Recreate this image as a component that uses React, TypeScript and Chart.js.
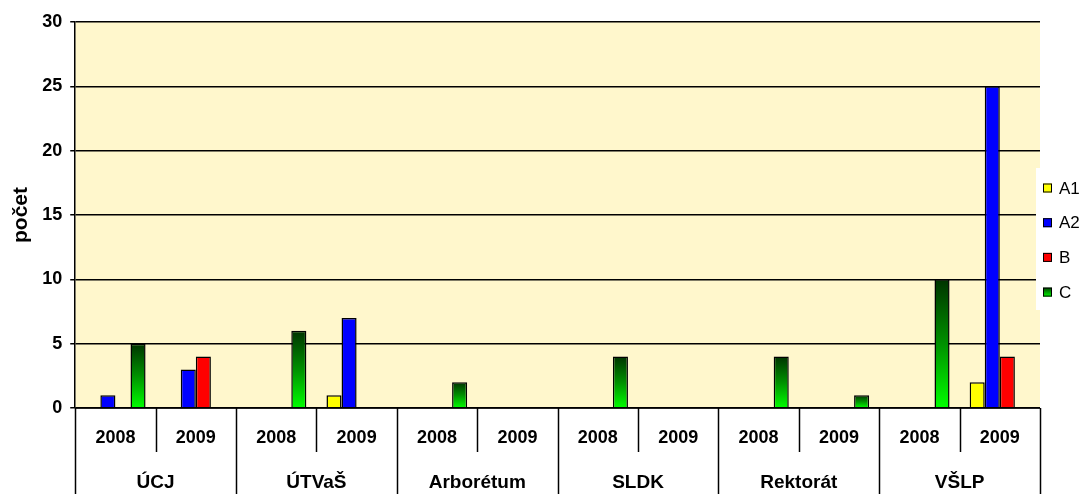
import { useEffect, useRef } from "react";
import { Chart, registerables } from "chart.js";

Chart.register(...registerables);

const FONT = 'Arial, "Liberation Sans", sans-serif';

const years = ["2008", "2009", "2008", "2009", "2008", "2009", "2008", "2009", "2008", "2009", "2008", "2009"];
const groups = ["ÚCJ", "ÚTVaŠ", "Arborétum", "SLDK", "Rektorát", "VŠLP"];
const seriesNames = ["A1", "A2", "B", "C"];
const a1Values = [0, 0, 0, 1, 0, 0, 0, 0, 0, 0, 0, 2];
const a2Values = [1, 3, 0, 7, 0, 0, 0, 0, 0, 0, 0, 25];
const bValues = [0, 4, 0, 0, 0, 0, 0, 0, 0, 0, 0, 4];
const cValues = [5, 0, 6, 0, 2, 0, 4, 0, 4, 1, 10, 0];
const yAxisTitle = "počet";

const noZero = (arr: number[]) => arr.map((v) => (v === 0 ? null : v));

const greenGradient = (ctx: any) => {
  const chart = ctx.chart;
  const area = chart.chartArea;
  if (!area || ctx.type !== "data") return "#00ff00";
  const v = ctx.raw;
  if (v == null) return "#00ff00";
  const y = chart.scales.y;
  const top = y.getPixelForValue(v);
  const bottom = y.getPixelForValue(0);
  const g = chart.ctx.createLinearGradient(0, top, 0, bottom);
  g.addColorStop(0, "#003300");
  g.addColorStop(0.5, "#009000");
  g.addColorStop(1, "#00ff00");
  return g;
};

const legendColors = ["#ffff00", "#0000ff", "#ff0000", null];

const decorPlugin = {
  id: "decor",
  beforeDraw(chart: any) {
    const { ctx, chartArea } = chart;
    ctx.save();
    ctx.fillStyle = "#fff7cc";
    ctx.fillRect(chartArea.left, chartArea.top, chartArea.right - chartArea.left, chartArea.bottom - chartArea.top);
    ctx.restore();
  },
  afterDraw(chart: any) {
    const { ctx, chartArea } = chart;
    const xs = chart.scales.x;
    const H = chart.height;
    const n = years.length;
    const px = (i: number) => xs.getPixelForValue(i);
    const boundary = (i: number) => {
      if (i <= 0) return chartArea.left;
      if (i >= n) return chartArea.right;
      return (px(i - 1) + px(i)) / 2;
    };
    ctx.save();
    ctx.strokeStyle = "#000";
    ctx.lineWidth = 1.5;
    ctx.beginPath();
    ctx.moveTo(chartArea.left, chartArea.bottom);
    ctx.lineTo(chartArea.right, chartArea.bottom);
    ctx.stroke();
    for (let i = 0; i <= n; i++) {
      const x = Math.round(boundary(i)) + 0.5;
      const full = i % 2 === 0;
      ctx.beginPath();
      ctx.moveTo(x, chartArea.bottom);
      ctx.lineTo(x, full ? H : chartArea.bottom + 44);
      ctx.stroke();
    }
    ctx.fillStyle = "#000";
    ctx.textAlign = "center";
    ctx.textBaseline = "middle";
    ctx.font = `bold 18px ${FONT}`;
    for (let i = 0; i < n; i++) {
      ctx.fillText(years[i], px(i), chartArea.bottom + 30);
    }
    ctx.font = `bold 19px ${FONT}`;
    for (let g = 0; g < groups.length; g++) {
      const cx = (boundary(2 * g) + boundary(2 * g + 2)) / 2;
      ctx.fillText(groups[g], cx, chartArea.bottom + 75);
    }
    // legend
    const lx = chartArea.right - 4;
    ctx.fillStyle = "#ffffff";
    ctx.fillRect(lx, 168, chart.width - lx, 142);
    ctx.font = `17px ${FONT}`;
    ctx.textAlign = "left";
    seriesNames.forEach((name, k) => {
      const cy = 188 + k * 34.7;
      const bx = chartArea.right + 3;
      const by = cy - 4.5;
      if (legendColors[k]) {
        ctx.fillStyle = legendColors[k] as string;
      } else {
        const g = ctx.createLinearGradient(0, by, 0, by + 9);
        g.addColorStop(0, "#004000");
        g.addColorStop(1, "#00ff00");
        ctx.fillStyle = g;
      }
      ctx.fillRect(bx, by, 9, 9);
      ctx.lineWidth = 1;
      ctx.strokeStyle = "#000";
      ctx.strokeRect(bx + 0.5, by + 0.5, 8, 8);
      ctx.fillStyle = "#000";
      ctx.fillText(name, chartArea.right + 19, cy + 1);
    });
    ctx.restore();
  },
};

export default function App() {
  const ref = useRef<HTMLCanvasElement>(null);
  useEffect(() => {
    if (!ref.current) return;
    const chart = new Chart(ref.current, {
      type: "bar",
      data: {
        labels: years,
        datasets: [
          { label: seriesNames[0], data: noZero(a1Values), backgroundColor: "#ffff00" },
          { label: seriesNames[1], data: noZero(a2Values), backgroundColor: "#0000ff" },
          { label: seriesNames[2], data: noZero(bValues), backgroundColor: "#ff0000" },
          { label: seriesNames[3], data: noZero(cValues), backgroundColor: greenGradient as any },
        ].map((d) => ({
          ...d,
          borderColor: "#000",
          borderWidth: 1.5,
          barPercentage: 1,
          categoryPercentage: 0.75,
          skipNull: false,
        })) as any,
      },
      options: {
        animation: false,
        responsive: false,
        maintainAspectRatio: false,
        layout: { padding: { left: 0, right: 41, top: 22, bottom: 86 } },
        plugins: { legend: { display: false }, tooltip: { enabled: false } },
        scales: {
          x: { display: false },
          y: {
            min: 0,
            max: 30,
            ticks: {
              stepSize: 5,
              color: "#000",
              font: { family: FONT, size: 18, weight: "bold" },
              padding: 8,
            },
            grid: { color: "#000", lineWidth: 1.5, tickLength: 5, drawTicks: true },
            border: { color: "#000", width: 1.5 },
            title: {
              display: true,
              text: yAxisTitle,
              color: "#000",
              font: { family: FONT, size: 21, weight: "bold" },
              padding: { top: 9, bottom: 0 },
            },
          },
        },
      },
      plugins: [decorPlugin],
    });
    return () => chart.destroy();
  }, []);
  return (
    <div style={{ position: "fixed", left: 0, top: 0, width: 1081, height: 494, background: "#fff" }}>
      <canvas ref={ref} width={1081} height={494} style={{ display: "block" }} />
    </div>
  );
}
